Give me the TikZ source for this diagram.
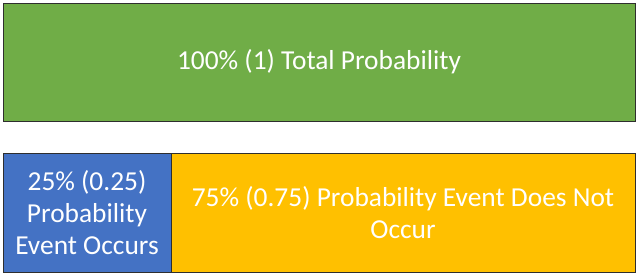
\documentclass[tikz,border=0pt]{standalone}
\usepackage{fontspec}
\setmainfont{Carlito}
\usetikzlibrary{positioning}
\definecolor{probgreen}{HTML}{70AD47}
\definecolor{probblue}{HTML}{4472C4}
\definecolor{probgold}{HTML}{FFC000}
\definecolor{probedge}{HTML}{2E2E2E}
\tikzset{
  probbox/.style={draw=probedge, line width=1bp, outer sep=0pt, inner sep=1bp,
    text=white, align=center, anchor=north west,
    font=\fontsize{27.5}{32.5}\selectfont}
}
\begin{document}
\begin{tikzpicture}[x=1bp,y=1bp]
  \useasboundingbox (0,0) rectangle (638,-275);
  % top bar
  \node[probbox, fill=probgreen, minimum width=632bp, minimum height=118bp]
    (total) at (3,-3) {100\% (1) Total Probability};
  % bottom bars
  \node[probbox, fill=probblue, minimum width=168bp, minimum height=119bp,
    below=32bp of total.south west, anchor=north west]
    (occurs) {25\% (0.25)\\Probability\\Event Occurs};
  \node[probbox, fill=probgold, minimum width=464bp, minimum height=119bp,
    anchor=north west] (notoccur) at (occurs.north east)
    {75\% (0.75) Probability Event Does Not\\Occur};
\end{tikzpicture}
\end{document}
